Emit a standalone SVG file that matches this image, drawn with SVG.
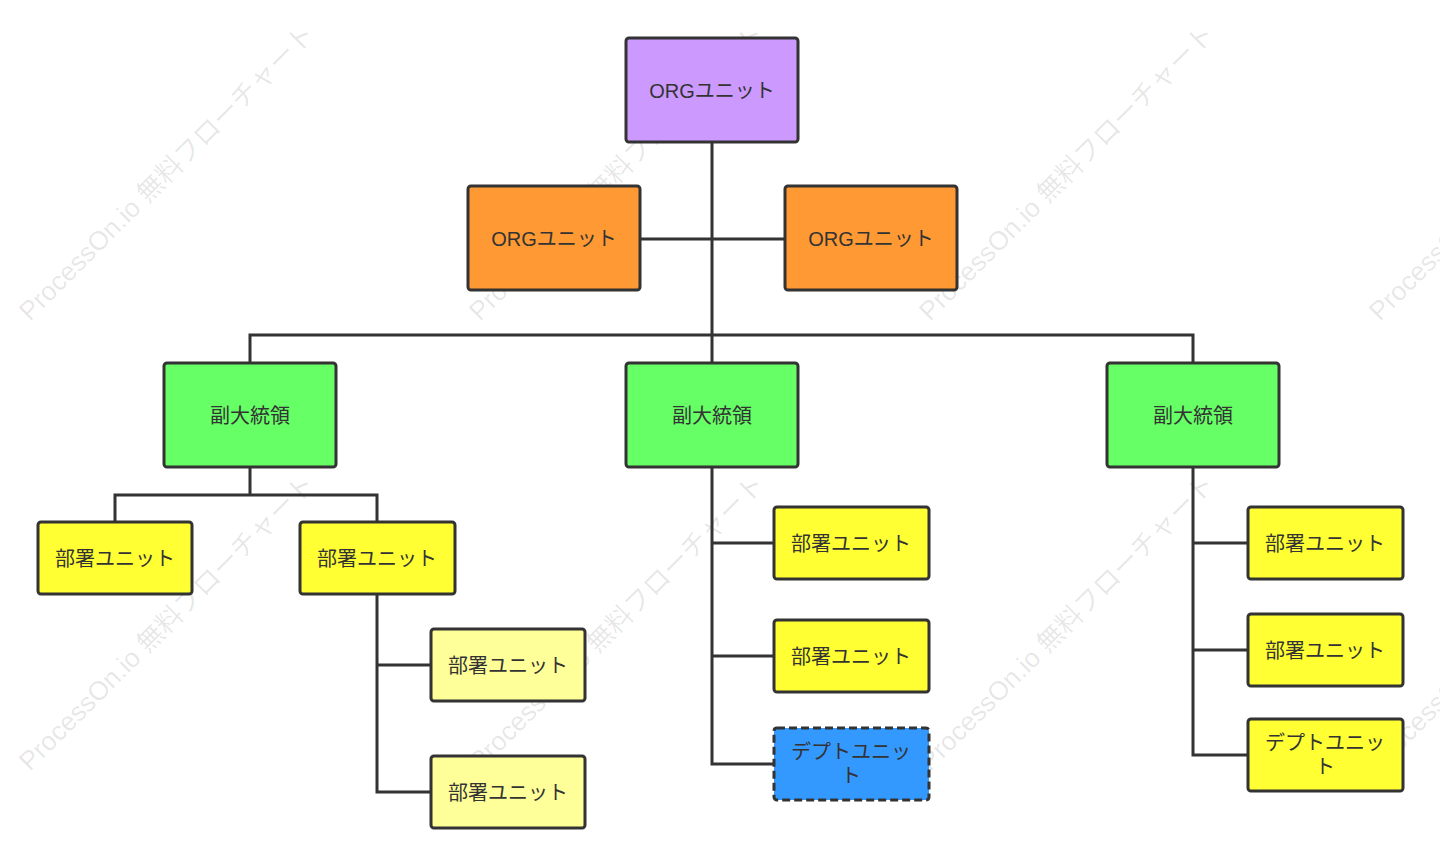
<svg xmlns="http://www.w3.org/2000/svg" width="1440" height="865" viewBox="0 0 1440 865">
<style>
.n{stroke:#333;stroke-width:3}
.t{font-family:"Liberation Sans","Noto Sans CJK JP",sans-serif;font-size:20px;fill:#333;text-anchor:middle;dominant-baseline:central}
.w{font-family:"Liberation Sans","Noto Sans CJK JP",sans-serif;font-size:26.5px;fill:#000;fill-opacity:0.1}
#c path{fill:none;stroke:#333;stroke-width:3}
</style>
<rect width="1440" height="865" fill="#fff"/>
<g id="wm">
<text class="w" transform="translate(30,322) rotate(-45)">ProcessOn.io 無料フローチャート</text>
<text class="w" transform="translate(480,322) rotate(-45)">ProcessOn.io 無料フローチャート</text>
<text class="w" transform="translate(930,322) rotate(-45)">ProcessOn.io 無料フローチャート</text>
<text class="w" transform="translate(1380,322) rotate(-45)">ProcessOn.io 無料フローチャート</text>
<text class="w" transform="translate(30,772) rotate(-45)">ProcessOn.io 無料フローチャート</text>
<text class="w" transform="translate(480,772) rotate(-45)">ProcessOn.io 無料フローチャート</text>
<text class="w" transform="translate(930,772) rotate(-45)">ProcessOn.io 無料フローチャート</text>
<text class="w" transform="translate(1380,772) rotate(-45)">ProcessOn.io 無料フローチャート</text>
</g>
<g id="c">
<path d="M712 142V363M640 239H785M250 363V335H1193V363"/>
<path d="M250 467V495M115 522V495H377V522M377 594V792H431M377 665H431"/>
<path d="M712 467V764H774M712 543H774M712 656H774"/>
<path d="M1193 467V755H1248M1193 543H1248M1193 650H1248"/>
</g>
<g id="n1"><rect class="n" x="626" y="38" width="172" height="104" rx="3" fill="#cc99ff"/><text class="t" x="712" y="91">ORGユニット</text></g>
<g id="n2"><rect class="n" x="468" y="186" width="172" height="104" rx="3" fill="#ff9933"/><text class="t" x="554" y="239">ORGユニット</text></g>
<g id="n3"><rect class="n" x="785" y="186" width="172" height="104" rx="3" fill="#ff9933"/><text class="t" x="871" y="239">ORGユニット</text></g>
<g id="n4"><rect class="n" x="164" y="363" width="172" height="104" rx="3" fill="#66ff66"/><text class="t" x="250" y="416">副大統領</text></g>
<g id="n5"><rect class="n" x="626" y="363" width="172" height="104" rx="3" fill="#66ff66"/><text class="t" x="712" y="416">副大統領</text></g>
<g id="n6"><rect class="n" x="1107" y="363" width="172" height="104" rx="3" fill="#66ff66"/><text class="t" x="1193" y="416">副大統領</text></g>
<g id="n7"><rect class="n" x="38" y="522" width="154" height="72" rx="3" fill="#ffff33"/><text class="t" x="115" y="559">部署ユニット</text></g>
<g id="n8"><rect class="n" x="300" y="522" width="155" height="72" rx="3" fill="#ffff33"/><text class="t" x="377" y="559">部署ユニット</text></g>
<g id="n9"><rect class="n" x="431" y="629" width="154" height="72" rx="3" fill="#ffff99"/><text class="t" x="508" y="666">部署ユニット</text></g>
<g id="n10"><rect class="n" x="431" y="756" width="154" height="72" rx="3" fill="#ffff99"/><text class="t" x="508" y="793">部署ユニット</text></g>
<g id="n11"><rect class="n" x="774" y="507" width="155" height="72" rx="3" fill="#ffff33"/><text class="t" x="851" y="544">部署ユニット</text></g>
<g id="n12"><rect class="n" x="774" y="620" width="155" height="72" rx="3" fill="#ffff33"/><text class="t" x="851" y="657">部署ユニット</text></g>
<g id="n13"><rect class="n" x="774" y="728" width="155" height="72" rx="3" fill="#3399ff" stroke-dasharray="8,4"/><text class="t" x="851" y="752">デプトユニッ</text><text class="t" x="851" y="776">ト</text></g>
<g id="n14"><rect class="n" x="1248" y="507" width="155" height="72" rx="3" fill="#ffff33"/><text class="t" x="1325" y="544">部署ユニット</text></g>
<g id="n15"><rect class="n" x="1248" y="614" width="155" height="72" rx="3" fill="#ffff33"/><text class="t" x="1325" y="651">部署ユニット</text></g>
<g id="n16"><rect class="n" x="1248" y="719" width="155" height="72" rx="3" fill="#ffff33"/><text class="t" x="1325" y="743">デプトユニッ</text><text class="t" x="1325" y="767">ト</text></g>
</svg>
